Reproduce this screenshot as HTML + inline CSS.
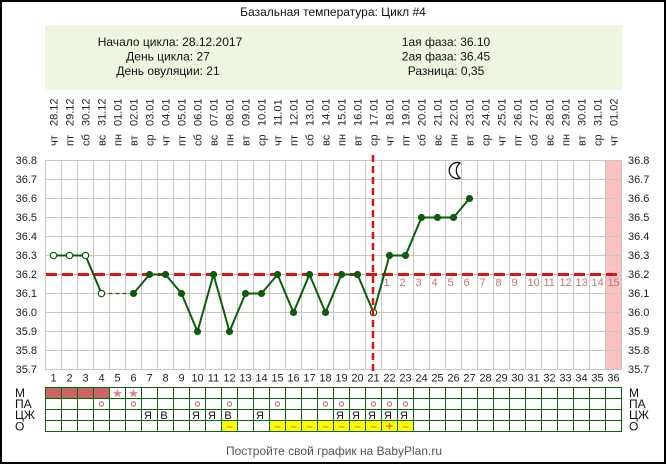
<!DOCTYPE html>
<html><head><meta charset="utf-8">
<style>
html,body{margin:0;padding:0;background:#fff;}
svg{display:block;}
text{font-family:"Liberation Sans",Arial,sans-serif;}
</style></head>
<body>
<svg width="666" height="464" viewBox="0 0 666 464" xmlns="http://www.w3.org/2000/svg">
<rect x="1" y="1" width="664" height="462" fill="#fff" stroke="#000" stroke-width="2"/>

<!-- Header -->
<text x="333" y="16" font-size="12" text-anchor="middle" fill="#111">Базальная температура: Цикл #4</text>
<rect x="45" y="25" width="577" height="65" fill="#eef6df"/>
<g font-size="12" fill="#111" text-anchor="middle">
<text x="170" y="46">Начало цикла: 28.12.2017</text>
<text x="168" y="60.5">День цикла: 27</text>
<text x="168" y="75">День овуляции: 21</text>
<text x="446" y="46">1ая фаза: 36.10</text>
<text x="446" y="60.5">2ая фаза: 36.45</text>
<text x="446" y="75">Разница: 0,35</text>
</g>

<!-- Date labels -->
<g font-size="11" fill="#222">
<text transform="translate(57.5,126) rotate(-90)">28.12</text><text transform="translate(57.5,146) rotate(-90)">чт</text>
<text transform="translate(73.5,126) rotate(-90)">29.12</text><text transform="translate(73.5,146) rotate(-90)">пт</text>
<text transform="translate(89.5,126) rotate(-90)">30.12</text><text transform="translate(89.5,146) rotate(-90)">сб</text>
<text transform="translate(105.5,126) rotate(-90)">31.12</text><text transform="translate(105.5,146) rotate(-90)">вс</text>
<text transform="translate(121.5,126) rotate(-90)">01.01</text><text transform="translate(121.5,146) rotate(-90)">пн</text>
<text transform="translate(137.5,126) rotate(-90)">02.01</text><text transform="translate(137.5,146) rotate(-90)">вт</text>
<text transform="translate(153.5,126) rotate(-90)">03.01</text><text transform="translate(153.5,146) rotate(-90)">ср</text>
<text transform="translate(169.5,126) rotate(-90)">04.01</text><text transform="translate(169.5,146) rotate(-90)">чт</text>
<text transform="translate(185.5,126) rotate(-90)">05.01</text><text transform="translate(185.5,146) rotate(-90)">пт</text>
<text transform="translate(201.5,126) rotate(-90)">06.01</text><text transform="translate(201.5,146) rotate(-90)">сб</text>
<text transform="translate(217.5,126) rotate(-90)">07.01</text><text transform="translate(217.5,146) rotate(-90)">вс</text>
<text transform="translate(233.5,126) rotate(-90)">08.01</text><text transform="translate(233.5,146) rotate(-90)">пн</text>
<text transform="translate(249.5,126) rotate(-90)">09.01</text><text transform="translate(249.5,146) rotate(-90)">вт</text>
<text transform="translate(265.5,126) rotate(-90)">10.01</text><text transform="translate(265.5,146) rotate(-90)">ср</text>
<text transform="translate(281.5,126) rotate(-90)">11.01</text><text transform="translate(281.5,146) rotate(-90)">чт</text>
<text transform="translate(297.5,126) rotate(-90)">12.01</text><text transform="translate(297.5,146) rotate(-90)">пт</text>
<text transform="translate(313.5,126) rotate(-90)">13.01</text><text transform="translate(313.5,146) rotate(-90)">сб</text>
<text transform="translate(329.5,126) rotate(-90)">14.01</text><text transform="translate(329.5,146) rotate(-90)">вс</text>
<text transform="translate(345.5,126) rotate(-90)">15.01</text><text transform="translate(345.5,146) rotate(-90)">пн</text>
<text transform="translate(361.5,126) rotate(-90)">16.01</text><text transform="translate(361.5,146) rotate(-90)">вт</text>
<text transform="translate(377.5,126) rotate(-90)">17.01</text><text transform="translate(377.5,146) rotate(-90)">ср</text>
<text transform="translate(393.5,126) rotate(-90)">18.01</text><text transform="translate(393.5,146) rotate(-90)">чт</text>
<text transform="translate(409.5,126) rotate(-90)">19.01</text><text transform="translate(409.5,146) rotate(-90)">пт</text>
<text transform="translate(425.5,126) rotate(-90)">20.01</text><text transform="translate(425.5,146) rotate(-90)">сб</text>
<text transform="translate(441.5,126) rotate(-90)">21.01</text><text transform="translate(441.5,146) rotate(-90)">вс</text>
<text transform="translate(457.5,126) rotate(-90)">22.01</text><text transform="translate(457.5,146) rotate(-90)">пн</text>
<text transform="translate(473.5,126) rotate(-90)">23.01</text><text transform="translate(473.5,146) rotate(-90)">вт</text>
<text transform="translate(489.5,126) rotate(-90)">24.01</text><text transform="translate(489.5,146) rotate(-90)">ср</text>
<text transform="translate(505.5,126) rotate(-90)">25.01</text><text transform="translate(505.5,146) rotate(-90)">чт</text>
<text transform="translate(521.5,126) rotate(-90)">26.01</text><text transform="translate(521.5,146) rotate(-90)">пт</text>
<text transform="translate(537.5,126) rotate(-90)">27.01</text><text transform="translate(537.5,146) rotate(-90)">сб</text>
<text transform="translate(553.5,126) rotate(-90)">28.01</text><text transform="translate(553.5,146) rotate(-90)">вс</text>
<text transform="translate(569.5,126) rotate(-90)">29.01</text><text transform="translate(569.5,146) rotate(-90)">пн</text>
<text transform="translate(585.5,126) rotate(-90)">30.01</text><text transform="translate(585.5,146) rotate(-90)">вт</text>
<text transform="translate(601.5,126) rotate(-90)">31.01</text><text transform="translate(601.5,146) rotate(-90)">ср</text>
<text transform="translate(617.5,126) rotate(-90)">01.02</text><text transform="translate(617.5,146) rotate(-90)">чт</text>
</g>

<!-- Chart grid -->
<rect x="605.5" y="160.5" width="16" height="209" fill="#f9c1c1"/>
<path fill="none" stroke="#c8c8c0" stroke-width="1" d="M45.5 160V370M61.5 160V370M77.5 160V370M93.5 160V370M109.5 160V370M125.5 160V370M141.5 160V370M157.5 160V370M173.5 160V370M189.5 160V370M205.5 160V370M221.5 160V370M237.5 160V370M253.5 160V370M269.5 160V370M285.5 160V370M301.5 160V370M317.5 160V370M333.5 160V370M349.5 160V370M365.5 160V370M381.5 160V370M397.5 160V370M413.5 160V370M429.5 160V370M445.5 160V370M461.5 160V370M477.5 160V370M493.5 160V370M509.5 160V370M525.5 160V370M541.5 160V370M557.5 160V370M573.5 160V370M589.5 160V370M605.5 160V370M621.5 160V370
M45 160.5H622M45 179.5H622M45 198.5H622M45 217.5H622M45 236.5H622M45 255.5H622M45 274.5H622M45 293.5H622M45 312.5H622M45 331.5H622M45 350.5H622M45 369.5H622"/>

<!-- Y labels -->
<g font-size="11" fill="#222" text-anchor="end">
<text x="37" y="164">36.8</text><text x="37" y="183">36.7</text><text x="37" y="202">36.6</text><text x="37" y="221">36.5</text><text x="37" y="240">36.4</text><text x="37" y="259">36.3</text><text x="37" y="278">36.2</text><text x="37" y="297">36.1</text><text x="37" y="316">36.0</text><text x="37" y="335">35.9</text><text x="37" y="354">35.8</text><text x="37" y="373">35.7</text>
</g>
<g font-size="11" fill="#222">
<text x="628" y="164">36.8</text><text x="628" y="183">36.7</text><text x="628" y="202">36.6</text><text x="628" y="221">36.5</text><text x="628" y="240">36.4</text><text x="628" y="259">36.3</text><text x="628" y="278">36.2</text><text x="628" y="297">36.1</text><text x="628" y="316">36.0</text><text x="628" y="335">35.9</text><text x="628" y="354">35.8</text><text x="628" y="373">35.7</text>
</g>

<!-- Post-ovulation day numbers -->
<g font-size="11" fill="#c07575">
<text x="383.5" y="286">1</text><text x="399.5" y="286">2</text><text x="415.5" y="286">3</text><text x="431.5" y="286">4</text><text x="447.5" y="286">5</text><text x="463.5" y="286">6</text><text x="479.5" y="286">7</text><text x="495.5" y="286">8</text><text x="511.5" y="286">9</text><text x="527.5" y="286">10</text><text x="543.5" y="286">11</text><text x="559.5" y="286">12</text><text x="575.5" y="286">13</text><text x="591.5" y="286">14</text><text x="607.5" y="286">15</text>
</g>

<!-- Cover line -->
<line x1="46" y1="274.5" x2="621" y2="274.5" stroke="#e01010" stroke-width="3" stroke-dasharray="11,5"/>

<!-- Data -->
<g fill="none" stroke="#0b5d0b" stroke-linejoin="round">
<polyline stroke-width="2" points="53.5,255.5 69.5,255.5 85.5,255.5 101.5,293.5"/>
<line x1="101.5" y1="293.5" x2="133.5" y2="293.5" stroke-width="1.2" stroke-dasharray="4,3"/>
<polyline stroke-width="2" points="133.5,293.5 149.5,274.5 165.5,274.5 181.5,293.5 197.5,331.5 213.5,274.5 229.5,331.5 245.5,293.5 261.5,293.5 277.5,274.5 293.5,312.5 309.5,274.5 325.5,312.5 341.5,274.5 357.5,274.5 373.5,312.5 389.5,255.5 405.5,255.5 421.5,217.5 437.5,217.5 453.5,217.5 469.5,198.5"/>
</g>
<g fill="#fff" stroke="#0b5d0b" stroke-width="1.2">
<circle cx="53.5" cy="255.5" r="3.2"/><circle cx="69.5" cy="255.5" r="3.2"/><circle cx="85.5" cy="255.5" r="3.2"/><circle cx="101.5" cy="293.5" r="3.2"/>
</g>
<g fill="#0b5d0b">
<circle cx="133.5" cy="293.5" r="3.6"/><circle cx="149.5" cy="274.5" r="3.6"/><circle cx="165.5" cy="274.5" r="3.6"/><circle cx="181.5" cy="293.5" r="3.6"/><circle cx="197.5" cy="331.5" r="3.6"/><circle cx="213.5" cy="274.5" r="3.6"/><circle cx="229.5" cy="331.5" r="3.6"/><circle cx="245.5" cy="293.5" r="3.6"/><circle cx="261.5" cy="293.5" r="3.6"/><circle cx="277.5" cy="274.5" r="3.6"/><circle cx="293.5" cy="312.5" r="3.6"/><circle cx="309.5" cy="274.5" r="3.6"/><circle cx="325.5" cy="312.5" r="3.6"/><circle cx="341.5" cy="274.5" r="3.6"/><circle cx="357.5" cy="274.5" r="3.6"/><circle cx="389.5" cy="255.5" r="3.6"/><circle cx="405.5" cy="255.5" r="3.6"/><circle cx="421.5" cy="217.5" r="3.6"/><circle cx="437.5" cy="217.5" r="3.6"/><circle cx="453.5" cy="217.5" r="3.6"/><circle cx="469.5" cy="198.5" r="3.6"/>
</g>
<circle cx="373.5" cy="312.5" r="3.2" fill="#fff" stroke="#0b5d0b" stroke-width="1.2"/>

<!-- Ovulation line -->
<line x1="373" y1="155" x2="373" y2="372" stroke="#e01010" stroke-width="2.5" stroke-dasharray="7,4"/>

<!-- Moon -->
<path d="M460 163 A8 8 0 1 0 460 178 A9.5 9.5 0 0 1 460 163 Z" fill="#fff" stroke="#111" stroke-width="1.3"/>

<!-- Day numbers -->
<g font-size="11" fill="#222" text-anchor="middle">
<text x="53.5" y="381.5">1</text><text x="69.5" y="381.5">2</text><text x="85.5" y="381.5">3</text><text x="101.5" y="381.5">4</text><text x="117.5" y="381.5">5</text><text x="133.5" y="381.5">6</text><text x="149.5" y="381.5">7</text><text x="165.5" y="381.5">8</text><text x="181.5" y="381.5">9</text><text x="197.5" y="381.5">10</text><text x="213.5" y="381.5">11</text><text x="229.5" y="381.5">12</text><text x="245.5" y="381.5">13</text><text x="261.5" y="381.5">14</text><text x="277.5" y="381.5">15</text><text x="293.5" y="381.5">16</text><text x="309.5" y="381.5">17</text><text x="325.5" y="381.5">18</text><text x="341.5" y="381.5">19</text><text x="357.5" y="381.5">20</text><text x="373.5" y="381.5">21</text><text x="389.5" y="381.5">22</text><text x="405.5" y="381.5">23</text><text x="421.5" y="381.5">24</text><text x="437.5" y="381.5">25</text><text x="453.5" y="381.5">26</text><text x="469.5" y="381.5">27</text><text x="485.5" y="381.5">28</text><text x="501.5" y="381.5">29</text><text x="517.5" y="381.5">30</text><text x="533.5" y="381.5">31</text><text x="549.5" y="381.5">32</text><text x="565.5" y="381.5">33</text><text x="581.5" y="381.5">34</text><text x="597.5" y="381.5">35</text><text x="613.5" y="381.5">36</text>
</g>

<!-- Bottom table -->
<rect x="45.5" y="387.5" width="64" height="11" fill="#c96565"/>
<rect x="221.5" y="420.5" width="16" height="11" fill="#ffff00"/>
<rect x="269.5" y="420.5" width="144" height="11" fill="#ffff00"/>
<path fill="none" stroke="#0a640a" stroke-width="1" d="M45 387.5H622M45 398.5H622M45 409.5H622M45 420.5H622M45 431.5H622
M45.5 387V432M61.5 387V432M77.5 387V432M93.5 387V432M109.5 387V432M125.5 387V432M141.5 387V432M157.5 387V432M173.5 387V432M189.5 387V432M205.5 387V432M221.5 387V432M237.5 387V432M253.5 387V432M269.5 387V432M285.5 387V432M301.5 387V432M317.5 387V432M333.5 387V432M349.5 387V432M365.5 387V432M381.5 387V432M397.5 387V432M413.5 387V432M429.5 387V432M445.5 387V432M461.5 387V432M477.5 387V432M493.5 387V432M509.5 387V432M525.5 387V432M541.5 387V432M557.5 387V432M573.5 387V432M589.5 387V432M605.5 387V432M621.5 387V432"/>

<g font-size="12" fill="#111">
<text x="15" y="397">М</text><text x="15" y="408">ПА</text><text x="15" y="419">ЦЖ</text><text x="15" y="430.5">О</text>
<text x="629" y="397">М</text><text x="629" y="408">ПА</text><text x="629" y="419">ЦЖ</text><text x="629" y="430.5">О</text>
</g>

<!-- Stars -->
<g font-size="12" fill="#d88a8a" text-anchor="middle">
<text x="117.5" y="397.5" style="font-family:'DejaVu Sans',sans-serif">★</text><text x="133.5" y="397.5" style="font-family:'DejaVu Sans',sans-serif">★</text>
</g>

<!-- ПА circles -->
<g fill="none" stroke="#d07070" stroke-width="1.1">
<circle cx="101.5" cy="404" r="2.2"/><circle cx="133.5" cy="404" r="2.2"/><circle cx="197.5" cy="404" r="2.2"/><circle cx="229.5" cy="404" r="2.2"/><circle cx="277.5" cy="404" r="2.2"/><circle cx="325.5" cy="404" r="2.2"/><circle cx="341.5" cy="404" r="2.2"/><circle cx="373.5" cy="404" r="2.2"/><circle cx="389.5" cy="404" r="2.2"/><circle cx="405.5" cy="404" r="2.2"/>
</g>

<!-- ЦЖ letters -->
<g font-size="11" fill="#111" text-anchor="middle">
<text x="148" y="419">Я</text><text x="164" y="419">В</text><text x="196" y="419">Я</text><text x="212" y="419">Я</text><text x="228" y="419">В</text><text x="260" y="419">Я</text><text x="340" y="419">Я</text><text x="356" y="419">Я</text><text x="372" y="419">Я</text><text x="388" y="419">Я</text><text x="404" y="419">Я</text>
</g>

<!-- О marks -->
<g font-size="11" fill="#e07040" text-anchor="middle" font-weight="bold">
<text x="229.5" y="430">–</text><text x="277.5" y="430">–</text><text x="293.5" y="430">–</text><text x="309.5" y="430">–</text><text x="325.5" y="430">–</text><text x="341.5" y="430">–</text><text x="357.5" y="430">–</text><text x="373.5" y="430">–</text><text x="389.5" y="430.5" font-size="13">+</text><text x="405.5" y="430">–</text>
</g>

<text x="334" y="455" font-size="12" fill="#555" text-anchor="middle">Постройте свой график на BabyPlan.ru</text>
</svg>
</body></html>
